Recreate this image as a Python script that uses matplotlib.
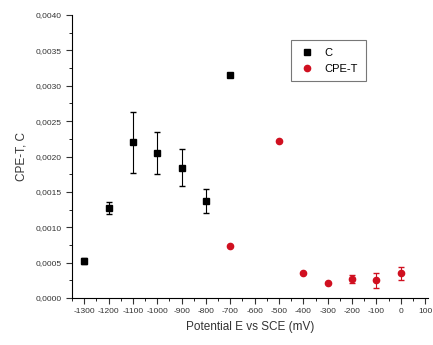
import numpy as np
import matplotlib
matplotlib.use('Agg')
import matplotlib.pyplot as plt
from matplotlib.ticker import MultipleLocator, FuncFormatter
from matplotlib.lines import Line2D

# data
pot_c = [-1300, -1200, -1100, -1000, -900, -800, -700]
c_vals = [0.00052, 0.00127, 0.00220, 0.00205, 0.00184, 0.00137, 0.00315]
c_err = [0.00004, 0.00008, 0.00043, 0.00030, 0.00026, 0.00017, 0.0]

pot_t = [-700, -500, -400, -300, -200, -100, 0]
t_vals = [0.00073, 0.00222, 0.00035, 0.00021, 0.00027, 0.00025, 0.00035]
t_err = [0.0, 0.0, 0.0, 0.0, 0.00006, 0.00011, 0.00009]

x_ticks = np.arange(-1300, 101, 100)

red = '#d01020'
plt.rcParams['font.family'] = ['Liberation Sans', 'DejaVu Sans']

fig = plt.figure(figsize=(4.33, 3.45), dpi=100)
ax = fig.add_axes([72/433, 47/345, 356/433, 283/345])

ax.errorbar(pot_c, c_vals, yerr=c_err, fmt='s', color='black', ms=4,
            ecolor='black', elinewidth=0.8, capsize=2)
ax.errorbar(pot_t, t_vals, yerr=t_err, fmt='o', color=red, ms=4.5,
            ecolor=red, elinewidth=0.8, capsize=2)

ax.set_xlim(-1350, 112)
ax.set_ylim(0, 0.004)
ax.set_xticks(x_ticks)
ax.xaxis.set_minor_locator(MultipleLocator(50))
ax.yaxis.set_major_locator(MultipleLocator(0.0005))
ax.yaxis.set_minor_locator(MultipleLocator(0.00025))
ax.yaxis.set_major_formatter(FuncFormatter(lambda v, p: f'{v:.4f}'.replace('.', ',')))
ax.xaxis.set_major_formatter(FuncFormatter(lambda v, p: f'{int(v)}'))

for s in ['top', 'right']:
    ax.spines[s].set_visible(False)
ax.tick_params(which='major', direction='out', length=4, width=0.8, labelsize=6, colors='#333333')
ax.tick_params(which='minor', direction='out', length=2, width=0.6)

ax.set_xlabel('Potential E vs SCE (mV)', fontsize=8.5, color='#333333', labelpad=4)
ax.set_ylabel('CPE-T, C', fontsize=8.5, color='#333333', labelpad=6)

handles = [Line2D([], [], ls='none', marker='s', color='black', ms=4),
           Line2D([], [], ls='none', marker='o', color=red, ms=4.5)]
leg = ax.legend(handles, ['C', 'CPE-T'], loc='upper left', bbox_to_anchor=(0.6, 0.93),
                fontsize=8, frameon=True, fancybox=False, edgecolor='#555555',
                handletextpad=0.8, borderpad=0.7, handlelength=1.5)
leg.get_frame().set_linewidth(0.8)

fig.savefig('out.png', dpi=100)
